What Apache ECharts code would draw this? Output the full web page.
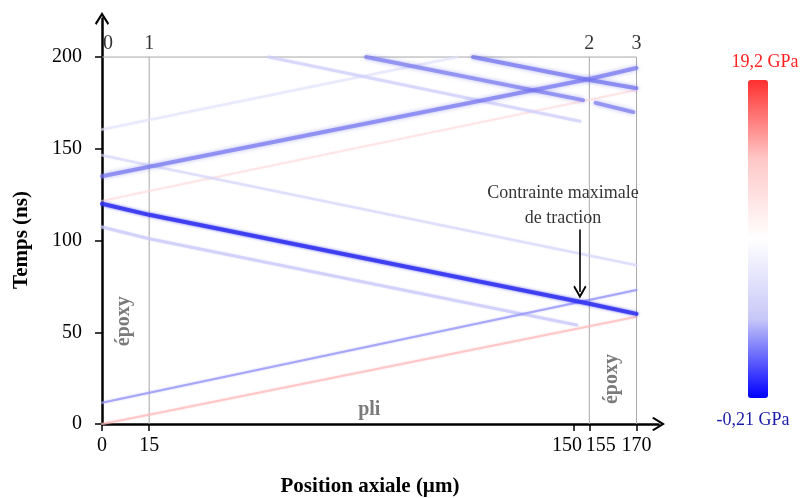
<!DOCTYPE html>
<html><head><meta charset="utf-8">
<script src="https://cdn.jsdelivr.net/npm/echarts@6/dist/echarts.min.js"></script>
<style>html,body{margin:0;padding:0;background:#fff}#c{width:806px;height:498px}</style>
</head><body><div id="c"></div>
<script>
// ---- data ----
const xTicks = [0, 15, 150, 155, 170];
const yTicks = [0, 50, 100, 150, 200];
const interfaceNames = ['0', '1', '2', '3'];
const interfaceX = [0, 15, 155, 170];
const frameTop = 200;
// wave paths: [position (µm), time (ns)]
const redFront = [[0, 0], [15, 5], [170, 58.5]];
const blueFront = [[0, 11.6], [15, 17], [170, 73]];
const blueReflect107 = [[0, 107.4], [15, 101], [151, 54]];
const maxTension = [[0, 120], [15, 114], [155, 65.5], [170, 60]];
const blueReflect146 = [[0, 146.5], [15, 141], [170, 86.5]];
const redReflect121 = [[0, 121.5], [15, 127], [170, 182]];
const blueRise135 = [[0, 135], [15, 140.2], [155, 188], [170, 194]];
const blueRise160 = [[0, 160.5], [113, 200]];
const blueFall53 = [[53, 200], [152, 165]];
const blueFall84 = [[84, 200], [153, 176.5]];
const blueFall84b = [[157, 175], [169, 170]];
const blueFall118 = [[118, 200], [155, 187.5], [170, 183]];
const stressMin = -0.21, stressMax = 19.2;
const stressLabels = ['19,2 GPa', '-0,21 GPa'];
const materialLabels = [[7, 56, 'époxy', 90], [162, 24.5, 'époxy', 90], [85, 7.6, 'pli', 0]];
const noteText = 'Contrainte maximale\nde traction';
const notePos = [146.6, 119];
const arrowPath = [[152, 106], [152, 72]];

// ---- chart ----
const FONT = "'Liberation Serif', 'Times New Roman', serif";
const chevron = 'path://M50,0 L100,80 L90,92 L50,28 L10,92 L0,80 Z';
const chart = echarts.init(document.getElementById('c'), null, {renderer: 'canvas'});

function wave(name, data, color, width, blur, z) {
  return {
    name, type: 'line', data, showSymbol: false, symbol: 'none', silent: true, z: z || 2,
    lineStyle: {color, width, shadowBlur: blur, shadowColor: color, cap: 'round'}
  };
}
function gray(data) {
  return {type: 'line', data, showSymbol: false, symbol: 'none', silent: true, z: 1,
    lineStyle: {color: '#a8a8a8', width: 1}};
}

const xRich = {
  a: {fontSize: 20, fontFamily: FONT, color: '#000', padding: [0, 13, 0, 0]},
  b: {fontSize: 20, fontFamily: FONT, color: '#000', padding: [0, 0, 0, 23]}
};

const series = [
  gray([[15, 0], [15, frameTop]]),
  gray([[155, 0], [155, frameTop]]),
  gray([[170, 0], [170, frameTop]]),
  gray([[0, frameTop], [170, frameTop]]),
  wave('redReflect121', redReflect121, 'rgba(255,215,215,0.55)', 2, 2),
  wave('blueRise160', blueRise160, 'rgba(225,225,252,0.6)', 2.5, 2),
  wave('blueFall53', blueFall53, 'rgba(205,205,250,0.65)', 3, 2),
  wave('blueReflect146', blueReflect146, 'rgba(210,210,250,0.6)', 2.5, 2),
  wave('blueReflect107', blueReflect107, 'rgba(200,200,250,0.7)', 3, 2),
  wave('redFront', redFront, 'rgba(255,185,185,0.7)', 2, 2),
  wave('blueFront', blueFront, 'rgba(150,150,250,0.75)', 2, 2),
  wave('blueFall84', blueFall84, 'rgba(120,120,238,0.7)', 4, 4, 3),
  wave('blueFall84b', blueFall84b, 'rgba(120,120,238,0.7)', 4, 4, 3),
  wave('blueFall118', blueFall118, 'rgba(110,110,238,0.7)', 4, 4, 3),
  wave('blueRise135', blueRise135, 'rgba(115,115,240,0.7)', 4, 4, 3),
  wave('maxTension', maxTension, 'rgba(50,50,240,0.85)', 4, 3, 4),
  { // interface numbers
    type: 'scatter', symbolSize: 0, silent: true, z: 5,
    data: interfaceX.map((x, i) => [x, frameTop, interfaceNames[i]]),
    label: {show: true, position: 'top', distance: 3, formatter: p => p.value[2],
      fontSize: 20, fontFamily: FONT, color: '#000'},
    labelLayout: p => p.dataIndex === 0 ? {dx: 6} : {}
  },
  { // material labels
    type: 'scatter', symbolSize: 0, silent: true, z: 5,
    data: materialLabels.map(m => ({value: [m[0], m[1]], name: m[2],
      label: {rotate: m[3]}})),
    label: {show: true, position: 'inside', formatter: p => p.name,
      fontSize: 20, fontWeight: 'bold', fontFamily: FONT, color: '#595959'}
  },
  { // note
    type: 'scatter', symbolSize: 0, silent: true, z: 6,
    data: [notePos],
    label: {show: true, position: 'inside', formatter: noteText,
      fontSize: 18, lineHeight: 25, fontFamily: FONT, color: '#000', align: 'center'}
  },
  { // arrow
    type: 'lines', coordinateSystem: 'cartesian2d', silent: true, z: 6,
    symbol: ['none', chevron], symbolSize: [15, 13],
    lineStyle: {color: '#000', width: 1.6, opacity: 1},
    data: [{coords: arrowPath}]
  },
  { // colour scale host
    type: 'scatter', data: [], silent: true
  }
];

chart.setOption({
  animation: false,
  backgroundColor: '#fff',
  grid: {left: 102, top: 18.5, right: 147.5, bottom: 74, containLabel: false},
  xAxis: {
    type: 'value', min: 0, max: 177,
    axisLine: {show: true, lineStyle: {color: '#000', width: 2.5}, symbol: ['none', chevron], symbolSize: [15, 13]},
    axisTick: {show: true, customValues: xTicks, length: 7, lineStyle: {color: '#000', width: 1.5}},
    axisLabel: {show: true, customValues: xTicks, margin: 12, fontSize: 20, fontFamily: FONT, color: '#000',
      hideOverlap: false,
      formatter: v => v === 150 ? '{a|150}' : v === 155 ? '{b|155}' : String(v),
      rich: xRich},
    splitLine: {show: false}
  },
  yAxis: {
    type: 'value', min: 0, max: 221,
    axisLine: {show: true, lineStyle: {color: '#000', width: 2.5}, symbol: ['none', chevron], symbolSize: [15, 13]},
    axisTick: {show: true, customValues: yTicks, length: 7, lineStyle: {color: '#000', width: 1.5}},
    axisLabel: {show: true, customValues: yTicks, margin: 20, fontSize: 20, fontFamily: FONT, color: '#000'},
    splitLine: {show: false}
  },
  visualMap: {
    type: 'continuous', min: stressMin, max: stressMax, orient: 'vertical',
    left: 733, top: 65, itemWidth: 20, itemHeight: 318, calculable: false,
    seriesIndex: series.length - 1, hoverLink: false,
    inRange: {color: ['#0000ff', '#c8c8f8', '#ffffff', '#ffc8c8', '#ff3030']}
  },
  graphic: [
    {type: 'text', x: 765, y: 62, style: {text: stressLabels[0], fill: '#ff2020', font: '18px ' + FONT, textAlign: 'center', textVerticalAlign: 'middle'}},
    {type: 'text', x: 753, y: 420, style: {text: stressLabels[1], fill: '#1a1aa8', font: '18px ' + FONT, textAlign: 'center', textVerticalAlign: 'middle'}},
    {type: 'text', x: 22, y: 240, rotation: Math.PI / 2, style: {text: 'Temps (ns)', fill: '#000', font: 'bold 21px ' + FONT, textAlign: 'center', textVerticalAlign: 'middle'}},
    {type: 'text', x: 370, y: 487, style: {text: 'Position axiale (µm)', fill: '#000', font: 'bold 21px ' + FONT, textAlign: 'center', textVerticalAlign: 'middle'}}
  ],
  series
});
</script></body></html>
